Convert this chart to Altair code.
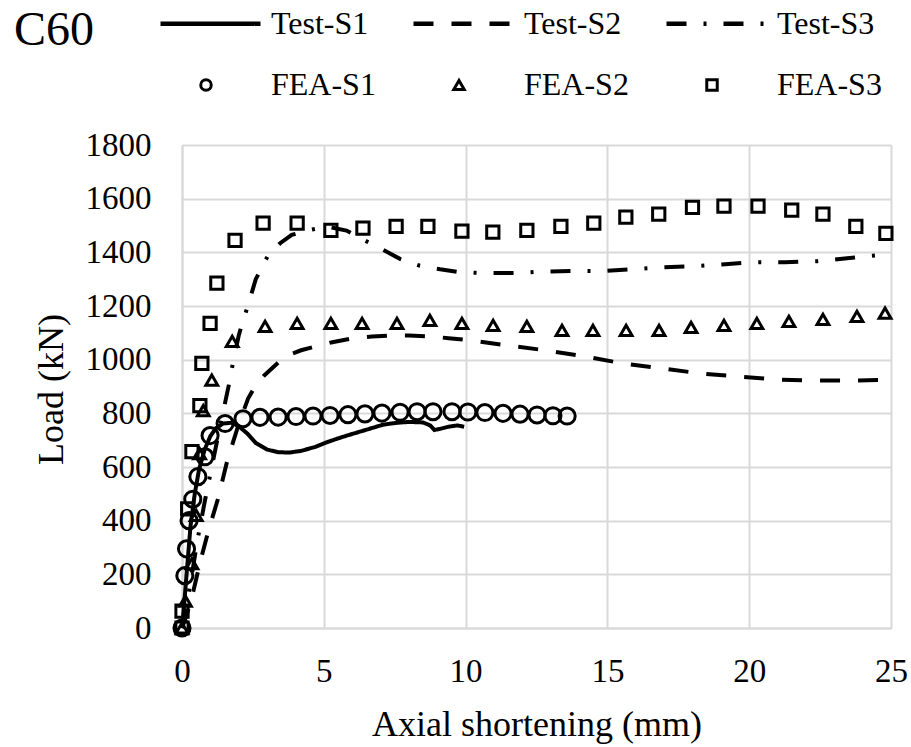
import altair as alt
import pandas as pd

# ---- Test curves (lines) ----
test_s1_x = [0, 0.1, 0.2, 0.3, 0.45, 0.6, 0.8, 1.0, 1.2, 1.45, 1.75, 2.0, 2.3, 2.6, 3.0, 3.4, 3.8,
             4.2, 4.7, 5.1, 5.6, 6.0, 6.6, 7.1, 7.6, 8.0, 8.5, 8.75, 8.9, 9.1, 9.4, 9.7, 9.95]
test_s1_y = [0, 120, 250, 380, 500, 590, 665, 715, 745, 762, 765, 752, 725, 690, 665, 655, 654,
             660, 675, 692, 710, 723, 742, 758, 765, 768, 766, 755, 738, 742, 750, 755, 750]

test_s2_x = [0, 0.2, 0.39, 0.65, 0.92, 1.27, 1.6, 2.0, 2.33, 2.6, 2.9, 3.3, 3.63, 4.2, 4.69, 5.3,
             6.0, 6.7, 7.4, 8.0, 8.74, 9.4, 10.16, 11.5, 12.87, 14.21, 15.55, 16.93, 18.34,
             19.68, 21.0, 22.39, 23.73, 25]
test_s2_y = [0, 60, 133, 250, 358, 482, 625, 760, 855, 905, 941, 980, 1012, 1035, 1049, 1065,
             1079, 1086, 1090, 1090, 1087, 1080, 1072, 1053, 1034, 1012, 986, 967, 948,
             937, 926, 922, 922, 925]

test_s3_x = [0, 0.15, 0.35, 0.55, 0.8, 1.05, 1.3, 1.5, 1.65, 1.8, 2.0, 2.15, 2.34, 2.6, 2.8, 3.04,
             3.46, 3.87, 4.4, 5.1, 5.8, 6.45, 7.1, 7.7, 8.39, 9.1, 9.8, 10.5, 11.3, 11.9, 12.6,
             13.7, 14.8, 15.9, 16.96, 18.0, 19.15, 20.2, 21.26, 22.4, 23.45, 24.54, 25]
test_s3_y = [0, 80, 200, 330, 470, 600, 730, 830, 905, 990, 1090, 1145, 1206, 1300, 1340, 1390,
             1434, 1465, 1481, 1496, 1481, 1444, 1409, 1375, 1350, 1337, 1326, 1323, 1323, 1323, 1328,
             1330, 1330, 1337, 1344, 1348, 1356, 1363, 1363, 1367, 1378, 1389, 1392]

# ---- FEA results (markers) ----
fea_s1_x = [0, 0.1, 0.16, 0.25, 0.38, 0.56, 0.81, 0.99, 1.52, 2.15, 2.75, 3.39, 4.02, 4.62, 5.22,
            5.85, 6.45, 7.05, 7.69, 8.29, 8.85, 9.52, 10.08, 10.68, 11.32, 11.92, 12.52, 13.08, 13.58]
fea_s1_y = [0, 195, 295, 400, 480, 564, 638, 717, 762, 780, 785, 786, 788, 790, 792,
            795, 798, 801, 804, 806, 806, 806, 805, 803, 800, 797, 794, 791, 790]

fea_s2_x = [0, 0.12, 0.35, 0.5, 0.62, 0.75, 1.05, 1.77, 2.93, 4.06, 5.25, 6.35, 7.58, 8.74, 9.87,
            10.97, 12.16, 13.4, 14.49, 15.66, 16.82, 17.95, 19.11, 20.27, 21.4, 22.6, 23.8, 24.79]
fea_s2_y = [0, 100, 240, 420, 650, 810, 924, 1068, 1124, 1135, 1135, 1135, 1135, 1146, 1135,
            1128, 1124, 1109, 1109, 1109, 1109, 1120, 1128, 1135, 1143, 1150, 1161, 1173]

fea_s3_x = [0, 0.0, 0.2, 0.35, 0.63, 0.7, 0.99, 1.23, 1.87, 2.86, 4.06, 5.25, 6.38, 7.55, 8.67,
            9.87, 10.96, 12.16, 13.36, 14.52, 15.65, 16.81, 18.0, 19.11, 20.31, 21.5, 22.6, 23.76, 24.82]
fea_s3_y = [0, 63, 444, 657, 829, 986, 1135, 1285, 1445, 1509, 1509, 1482, 1490, 1497, 1497,
            1479, 1475, 1482, 1497, 1509, 1531, 1542, 1568, 1572, 1572, 1557, 1542, 1497, 1471]

line_names = ["Test-S1", "Test-S2", "Test-S3"]
point_names = ["FEA-S1", "FEA-S2", "FEA-S3"]
point_shapes = ["circle", "triangle-up", "square"]
point_sizes = [260, 140, 150]
x_ticks = [0, 5, 10, 15, 20, 25]
y_ticks = [0, 200, 400, 600, 800, 1000, 1200, 1400, 1600, 1800]
panel_label = ["C60"]

FONT = "Liberation Serif"


def frame(field, name, xs, ys):
    return pd.DataFrame({"x": xs, "y": ys, field: name})


lines_df = pd.concat([frame("test", n, xs, ys) for n, xs, ys in zip(
    line_names, [test_s1_x, test_s2_x, test_s3_x], [test_s1_y, test_s2_y, test_s3_y])])
point_dfs = [frame("fea", n, xs, ys) for n, xs, ys in zip(
    point_names, [fea_s1_x, fea_s2_x, fea_s3_x], [fea_s1_y, fea_s2_y, fea_s3_y])]

axis_common = dict(
    grid=True, gridColor="#d9d9d9", gridWidth=2,
    domainColor="#d9d9d9", domainWidth=2,
    ticks=False, tickSize=0, labelFlush=False, format="d",
    labelFont=FONT, labelFontSize=33, labelColor="black",
    titleFont=FONT, titleFontSize=36, titleFontWeight="normal", titleColor="black",
)

x_enc = alt.X("x:Q", scale=alt.Scale(domain=[0, 25], nice=False),
              axis=alt.Axis(values=x_ticks, title="Axial shortening (mm)", labelPadding=27,
                            titleBaseline="alphabetic", titleY=107, **axis_common))
y_enc = alt.Y("y:Q", scale=alt.Scale(domain=[0, 1800], nice=False),
              axis=alt.Axis(values=y_ticks, title="Load (kN)", labelPadding=31,
                            titleBaseline="alphabetic", titleX=-120, titleY=244,
                            titleAngle=-90, titleAlign="center", **axis_common))

lines = alt.Chart(lines_df).mark_line(color="black", strokeWidth=4).encode(
    x=x_enc, y=y_enc,
    strokeDash=alt.StrokeDash(
        "test:N",
        scale=alt.Scale(domain=line_names, range=[[1, 0], [20, 18], [20, 17, 3, 17]]),
        legend=alt.Legend(orient="none", legendX=-24, legendY=-174, direction="horizontal",
                          columns=3, title=None, symbolType="stroke", symbolSize=10000,
                          symbolStrokeWidth=4.5, symbolStrokeColor="black", labelOffset=8,
                          columnPadding=35, gridAlign="all", padding=0,
                          labelFont=FONT, labelFontSize=32, labelColor="black"),
    ),
)

shape_legend = alt.Legend(orient="none", legendX=8, legendY=-76, direction="horizontal",
                          columns=3, title=None, symbolSize=110, symbolStrokeWidth=3,
                          symbolStrokeColor="black", labelOffset=49, columnPadding=67,
                          gridAlign="all", padding=0,
                          labelFont=FONT, labelFontSize=32, labelColor="black")

point_layers = [
    alt.Chart(df).mark_point(filled=False, color="black", strokeWidth=3, opacity=1, size=sz).encode(
        x=x_enc, y=y_enc,
        shape=alt.Shape("fea:N", scale=alt.Scale(domain=point_names, range=point_shapes),
                        legend=shape_legend),
    )
    for df, sz in zip(point_dfs, point_sizes)
]

label = alt.Chart(pd.DataFrame({"label": panel_label})).mark_text(
    font=FONT, fontSize=48, color="black", align="center", baseline="alphabetic"
).encode(text="label:N", x=alt.value(-128), y=alt.value(-100))

chart = alt.layer(lines, *point_layers, label).properties(
    width=709, height=483,
    autosize=alt.AutoSizeParams(type="none"),
    padding={"left": 182, "top": 145, "right": 20, "bottom": 119},
).configure_view(stroke=None).configure(background="white")

chart.save("out.html", embed_options={"renderer": "svg", "actions": False})
